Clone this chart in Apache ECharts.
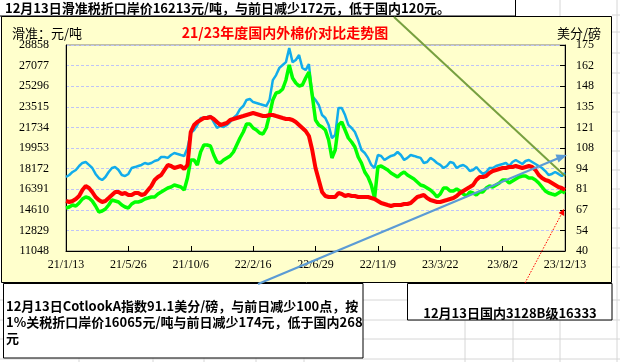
<!DOCTYPE html>
<html><head><meta charset="utf-8">
<script src="https://cdn.jsdelivr.net/npm/echarts@6/dist/echarts.min.js"></script>
<style>html,body{margin:0;padding:0;background:#fff;}#c{width:620px;height:362px;}</style>
</head><body><div id="c"></div>
<script>
// ---- data ----
const startDate = '2021-01-13';
const stepDays = 7;
const xTickDays = 133;
const xEndDays = 1064;
const leftTicks = [11048, 12829, 14610, 16391, 18172, 19953, 21734, 23515, 25296, 27077, 28858];
const rightTicks = [40, 54, 67, 81, 94, 108, 121, 135, 148, 162, 175];
// 国内3128B (元/吨), weekly from 2021-01-13
const domestic = [
15371,15285,15371,15544,15803,16322,16668,16495,16149,15717,15457,15285,15371,15630,15890,16149,
16149,15976,16063,15890,15890,16063,16063,15890,15976,16322,16668,17187,17446,17619,18051,18484,
18397,18224,18311,18397,18138,18484,21337,21942,22201,22374,22547,22547,22634,22461,22201,21942,
22028,22115,22374,22461,22547,22634,22720,22807,22893,22979,22893,22807,22720,22720,22807,22807,
22720,22634,22547,22461,22461,22374,22201,21942,21683,21423,20991,19781,18224,17187,16149,15803,
15717,15717,15717,16063,15976,15803,15890,15803,15803,15717,15717,15717,15717,15630,15544,15371,
15198,15112,15025,14939,15025,15025,15025,15112,15112,15198,15457,15717,15803,15890,15630,15457,
15371,15285,15285,15371,15457,15544,15630,15803,16063,16236,16409,16581,16754,17187,17446,17446,
17533,17792,17965,18051,18138,18224,18224,18311,18311,18397,18311,18224,18311,18397,18311,18051,
17619,17360,17187,17100,16927,16754,16581,16495,16333];
// 1%关税折口岸价 (元/吨)
const importPrice = [
14766,14852,15025,14939,15198,15544,15717,15630,15371,14939,14420,14506,14679,15025,15457,15371,
15285,15025,14852,14766,15112,15285,15285,15371,15544,15630,15717,15717,15976,16149,16322,16495,
16581,16754,16668,16581,16322,17360,18916,18916,18484,19607,20213,20213,20126,19348,18743,18657,
18916,19089,19262,19607,20213,20818,21337,22028,22028,21683,21510,21250,21164,21683,22807,24103,
24709,24796,25055,25833,27130,26006,25573,25314,25400,26006,26524,24536,22374,21942,21769,21510,
20645,19089,19780,21942,22201,21510,20818,20472,20040,19175,18657,17879,17446,16754,15630,18311,
18397,18224,18051,17792,17619,17446,17706,17879,17619,17446,17273,17014,16754,16668,16495,16322,
16063,15717,15976,16495,16495,16236,16236,16409,16236,15976,15803,16149,16063,15890,16149,16149,
16495,16668,16581,16754,16927,17187,17187,16927,17100,17273,17446,17533,17533,17360,17360,17187,
16927,16581,16236,16063,15976,15890,16063,16236,16065];
// CotlookA (美分/磅)
const cotlookA = [
88.5,89.8,91.8,93.1,95.7,97.7,98.3,96.4,94.4,90.5,87.8,86.5,88.5,91.8,94.4,95.0,
93.1,89.8,89.1,90.5,94.4,95.0,95.7,96.4,97.7,97.0,97.7,99.0,99.6,101.6,101.6,101.0,
102.9,104.2,103.6,102.9,102.3,107.5,117.3,119.3,122.6,127.2,127.2,127.8,128.5,124.5,120.6,121.9,
121.3,122.6,124.5,127.2,129.1,133.0,135.0,139.0,139.6,137.6,137.0,136.3,135.7,135.0,139.0,152.0,
155.3,160.0,161.9,163.8,173.0,163.8,165.2,168.4,159.9,158.6,162.5,141.6,139.0,135.7,129.1,127.2,
122.6,114.0,116.0,133.7,133.7,129.1,122.6,120.6,118.0,112.7,106.2,104.2,101.0,96.4,94.4,102.9,
102.3,99.6,101.0,102.3,102.9,104.9,102.9,99.6,101.0,102.9,102.3,101.6,101.0,97.7,98.3,101.0,
99.6,97.7,96.4,94.4,95.7,98.3,97.7,94.4,95.7,96.4,95.0,92.4,93.1,95.0,92.4,90.5,
91.8,94.4,94.4,95.7,96.4,97.0,97.7,95.7,98.3,99.6,98.3,97.0,99.0,99.6,98.3,97.0,
95.7,94.4,92.4,89.8,90.5,91.8,90.5,89.1,91.1];

const titleText = '21/23年度国内外棉价对比走势图';
const topNote = '12月13日滑准税折口岸价16213元/吨，与前日减少172元，低于国内120元。';
const leftNote = ['12月13日CotlookA指数91.1美分/磅，与前日减少100点，按', '1%关税折口岸价16065元/吨与前日减少174元，低于国内268', '元'];
const rightNote = '12月13日国内3128B级16333';

// ---- build ----
const t0 = Date.parse(startDate + 'T00:00:00Z');
function pairs(arr){ return arr.map((v,i)=>[i*stepDays, v]); }
function dayLabel(v){
  const d = new Date(t0 + v*86400000);
  return String(d.getUTCFullYear()).slice(2) + '/' + (d.getUTCMonth()+1) + '/' + d.getUTCDate();
}
const CJK = '"Noto Sans CJK SC", sans-serif';
const NUM = '"Liberation Serif", serif';

const gridG = [];
const grey = '#D6D6D6';
[15,32,53,73,93,112,131,151,170,189,209,228,248,267].forEach(y=>gridG.push({type:'line',z:-5,shape:{x1:612,y1:y,x2:620,y2:y},style:{stroke:grey,lineWidth:1}}));
[300,320,339,359].forEach(y=>gridG.push({type:'line',z:-5,shape:{x1:0,y1:y,x2:620,y2:y},style:{stroke:grey,lineWidth:1}}));
[79,153,204,256,304,465,513,560].forEach(x=>gridG.push({type:'line',z:-5,shape:{x1:x,y1:283,x2:x,y2:362},style:{stroke:grey,lineWidth:1}}));
gridG.push({type:'line',z:-5,shape:{x1:560,y1:0,x2:560,y2:16},style:{stroke:grey,lineWidth:1}});
gridG.push({type:'line',z:-5,shape:{x1:617,y1:0,x2:617,y2:362},style:{stroke:grey,lineWidth:1}});

const chart = echarts.init(document.getElementById('c'), null, {renderer:'canvas'});
chart.setOption({
  animation:false,
  backgroundColor:'#ffffff',
  grid:{left:66,right:55,top:45,bottom:111,show:true,borderColor:'#808080',borderWidth:1,backgroundColor:'transparent',outerBoundsMode:'none'},
  xAxis:{type:'value',min:0,max:xEndDays,interval:xTickDays,
    axisLine:{lineStyle:{color:'#000',width:1}},
    axisTick:{inside:true,length:5,lineStyle:{color:'#000'}},
    splitLine:{show:false},
    axisLabel:{formatter:dayLabel,color:'#000',fontFamily:NUM,fontSize:12,margin:8}},
  yAxis:[
    {type:'value',min:leftTicks[0],max:leftTicks[leftTicks.length-1],interval:leftTicks[1]-leftTicks[0],position:'left',
     axisLine:{show:true,lineStyle:{color:'#000'}},axisTick:{show:false},
     splitLine:{show:true,lineStyle:{color:'#BFC4F7',type:[3,2],width:1}},
     axisLabel:{color:'#000',fontFamily:NUM,fontSize:12,margin:17,formatter:v=>String(Math.round(v))}},
    {type:'value',min:rightTicks[0],max:rightTicks[rightTicks.length-1],interval:(rightTicks[rightTicks.length-1]-rightTicks[0])/10,position:'right',
     axisLine:{show:true,lineStyle:{color:'#000'}},axisTick:{show:true,inside:true,length:5,lineStyle:{color:'#000'}},
     splitLine:{show:false},
     axisLabel:{color:'#000',fontFamily:NUM,fontSize:12,margin:11,formatter:v=>String(Math.round(v))}}
  ],
  series:[
    {name:'CotlookA',type:'line',yAxisIndex:1,data:pairs(cotlookA),showSymbol:false,lineStyle:{color:'#12ACEB',width:2.5},z:3},
    {name:'1%关税折口岸价',type:'line',yAxisIndex:0,data:pairs(importPrice),showSymbol:false,lineStyle:{color:'#00FF00',width:3.5},z:4},
    {name:'国内3128B',type:'line',yAxisIndex:0,data:pairs(domestic),showSymbol:false,lineStyle:{color:'#FF0000',width:4},z:5}
  ],
  graphic:{elements:[
    ...gridG,
    {type:'rect',z:-3,shape:{x:1.5,y:16.5,width:610,height:266},style:{fill:'#FFFFCC',stroke:'#000',lineWidth:1}},
    {type:'rect',z:10,shape:{x:-1,y:-1,width:516.5,height:17},style:{fill:'#fff',stroke:'#000',lineWidth:1}},
    {type:'text',z:11,style:{x:5,y:8,text:topNote,font:'bold 13px '+CJK,fill:'#000',textVerticalAlign:'middle'}},
    {type:'text',z:11,style:{x:285,y:33,text:titleText,font:'bold 14px '+CJK,fill:'#FF0000',textAlign:'center',textVerticalAlign:'middle'}},
    {type:'text',z:11,style:{x:12,y:33,text:'滑准：元/吨',font:'13px '+CJK,fill:'#000',textVerticalAlign:'middle'}},
    {type:'text',z:11,style:{x:557,y:33,text:'美分/磅',font:'13px '+CJK,fill:'#000',textVerticalAlign:'middle'}},
    {type:'line',z:20,shape:{x1:394,y1:17,x2:565,y2:176},style:{stroke:'#77A040',lineWidth:2}},
    {type:'line',z:20,shape:{x1:258,y1:284,x2:560,y2:157.5},style:{stroke:'#5B9BD5',lineWidth:2.2}},
    {type:'polygon',z:20,shape:{points:[[567,155],[558.5,162.5],[555.5,154.5]]},style:{fill:'#5B9BD5'}},
    {type:'line',z:20,shape:{x1:525,y1:283,x2:562,y2:213},style:{stroke:'#FF0000',lineWidth:1,lineDash:[1.5,1.5]}},
    {type:'polygon',z:20,shape:{points:[[564,209],[564.2,216],[558.6,213]]},style:{fill:'#FF0000'}},
    {type:'rect',z:10,shape:{x:3.5,y:283.5,width:359.5,height:74.5},style:{fill:'#fff',stroke:'#000',lineWidth:1}},
    {type:'text',z:11,style:{x:6,y:306,text:leftNote[0],font:'bold 13px '+CJK,fill:'#000',textVerticalAlign:'middle'}},
    {type:'text',z:11,style:{x:6,y:322,text:leftNote[1],font:'bold 13px '+CJK,fill:'#000',textVerticalAlign:'middle'}},
    {type:'text',z:11,style:{x:6,y:338,text:leftNote[2],font:'bold 13px '+CJK,fill:'#000',textVerticalAlign:'middle'}},
    {type:'rect',z:10,shape:{x:407.5,y:283.5,width:204.5,height:36.5},style:{fill:'#fff',stroke:'#000',lineWidth:1}},
    {type:'text',z:11,style:{x:510,y:313,text:rightNote,font:'bold 13px '+CJK,fill:'#000',textAlign:'center',textVerticalAlign:'middle'}}
  ]}
});
</script>
</body></html>
